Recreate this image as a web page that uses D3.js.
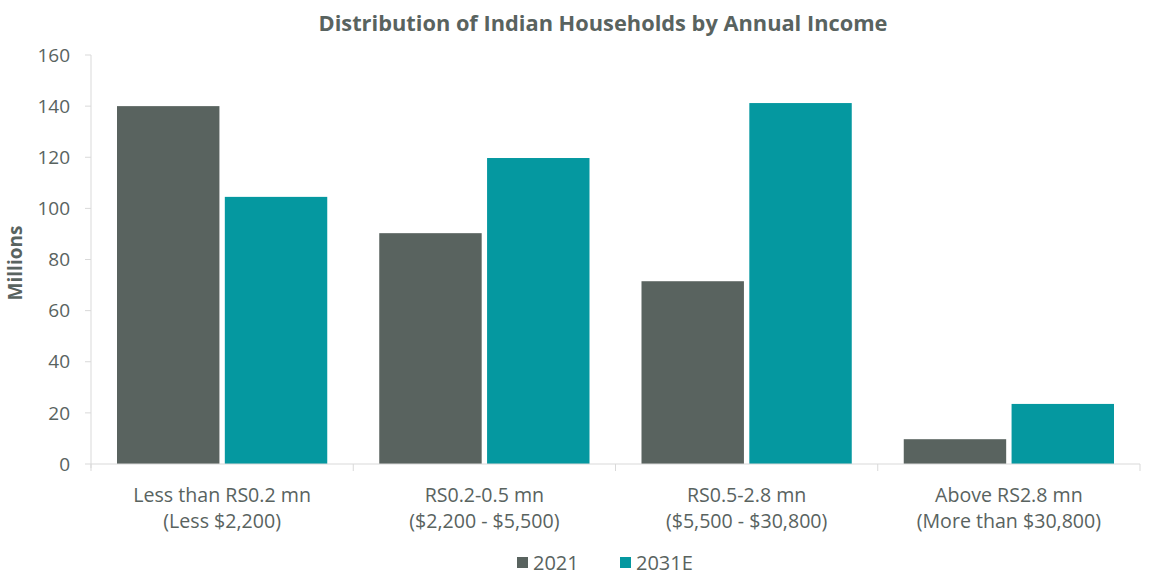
<!DOCTYPE html>
<html>
<head>
<meta charset="utf-8">
<script src="https://cdn.jsdelivr.net/npm/d3@7"></script>
<style>
  body { margin: 0; background: #fff; }
  text { font-family: "Open Sans", "Noto Sans", sans-serif; fill: #59635f; }
</style>
</head>
<body>
<div id="chart-area"></div>
<script>
const canvas_width = 1152;
const canvas_height = 577;

const categories = [
    ['Less than RS0.2 mn', '(Less $2,200)'],
    ['RS0.2-0.5 mn', '($2,200 - $5,500)'],
    ['RS0.5-2.8 mn', '($5,500 - $30,800)'],
    ['Above RS2.8 mn', '(More than $30,800)']
];
const series = ['2021', '2031E'];
const values2021 = [140, 90.3, 71.5, 9.7];
const values2031 = [104.5, 119.7, 141.2, 23.5];
const yTicks = [0, 20, 40, 60, 80, 100, 120, 140, 160];
const colors = ['#59635f', '#0598a0'];

const margin = { left: 91, right: 12, top: 55, bottom: 113 };
const width = canvas_width - margin.left - margin.right;
const height = canvas_height - margin.top - margin.bottom;

let svg = d3.select('#chart-area').append('svg')
    .attr('width', canvas_width)
    .attr('height', canvas_height);
let group = svg.append('g').attr('transform', `translate(${margin.left}, ${margin.top})`);

let x = d3.scaleBand()
    .domain(d3.range(categories.length))
    .range([0, width])
    .paddingInner(0)
    .paddingOuter(0);

let x1 = d3.scaleBand()
    .domain(series)
    .range([26, x.bandwidth() - 26])
    .paddingInner(0.05);

let y = d3.scaleLinear()
    .domain([0, 160])
    .range([height, 0]);

let data = categories.map((c, i) => ({ i: i, vals: [values2021[i], values2031[i]] }));

// axes lines
group.append('line')
    .attr('x1', 0).attr('x2', 0)
    .attr('y1', 0).attr('y2', height + 4)
    .attr('stroke', '#d9d9d9');
group.selectAll('.ytick').data(yTicks).enter().append('line')
    .attr('x1', -6).attr('x2', 0)
    .attr('y1', (d) => y(d)).attr('y2', (d) => y(d))
    .attr('stroke', '#d9d9d9');
group.selectAll('.ylabel').data(yTicks).enter().append('text')
    .attr('x', -21)
    .attr('y', (d) => y(d))
    .attr('dy', '0.35em')
    .attr('text-anchor', 'end')
    .attr('font-size', '19px')
    .text((d) => d);

// bars
let cats = group.selectAll('.cat').data(data).enter().append('g')
    .attr('transform', (d) => `translate(${x(d.i)}, 0)`);
cats.selectAll('rect').data((d) => d.vals.map((v, k) => ({ k: k, v: v }))).enter().append('rect')
    .attr('x', (d) => x1(series[d.k]))
    .attr('y', (d) => y(d.v))
    .attr('width', x1.bandwidth())
    .attr('height', (d) => height - y(d.v))
    .attr('fill', (d) => colors[d.k]);

// bottom axis
group.append('line')
    .attr('x1', 0).attr('x2', width)
    .attr('y1', height).attr('y2', height)
    .attr('stroke', '#d9d9d9');
group.selectAll('.xtick').data(d3.range(categories.length + 1)).enter().append('line')
    .attr('x1', (d) => d * x.bandwidth()).attr('x2', (d) => d * x.bandwidth())
    .attr('y1', height).attr('y2', height + 7)
    .attr('stroke', '#d9d9d9');

let xl = group.selectAll('.xlabel').data(categories).enter().append('text')
    .attr('x', (d, i) => x(i) + x.bandwidth() / 2)
    .attr('y', height + 38)
    .attr('text-anchor', 'middle')
    .attr('font-size', '19.6px');
xl.append('tspan').attr('x', (d, i) => x(i) + x.bandwidth() / 2).text((d) => d[0]);
xl.append('tspan').attr('x', (d, i) => x(i) + x.bandwidth() / 2).attr('dy', 26).text((d) => d[1]);

// title
svg.append('text')
    .attr('x', 603)
    .attr('y', 31)
    .attr('text-anchor', 'middle')
    .attr('font-size', '21.8px')
    .attr('font-weight', 'bold')
    .attr('fill', '#525d59')
    .text('Distribution of Indian Households by Annual Income');

// y label
svg.append('text')
    .attr('transform', 'translate(22, 263) rotate(-90)')
    .attr('text-anchor', 'middle')
    .attr('font-size', '19px')
    .attr('font-weight', 'bold')
    .text('Millions');

// legend
let legendX = [517, 620];
let legend = svg.selectAll('.legend').data(series).enter().append('g')
    .attr('transform', (d, i) => `translate(${legendX[i]}, 557)`);
legend.append('rect').attr('width', 11).attr('height', 11).attr('fill', (d, i) => colors[i]);
legend.append('text')
    .attr('x', 16).attr('y', 6).attr('dy', '0.35em')
    .attr('font-size', '20px')
    .text((d) => d);
</script>
</body>
</html>
